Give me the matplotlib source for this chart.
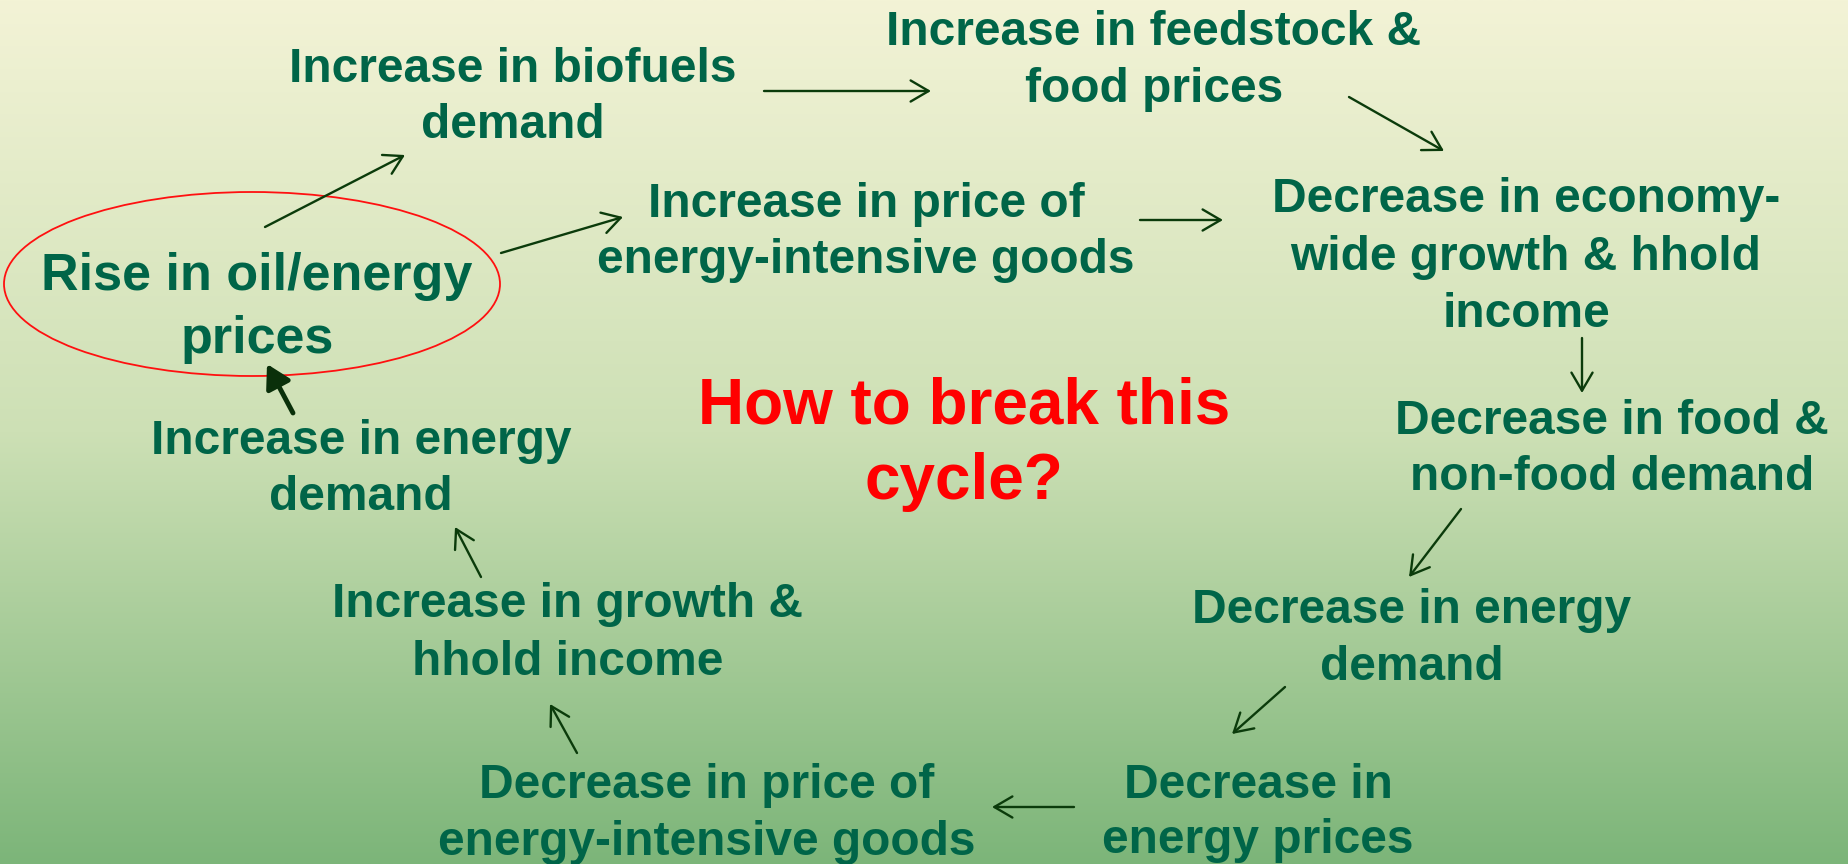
import numpy as np
import matplotlib
matplotlib.use('Agg')
import matplotlib.pyplot as plt
from matplotlib.patches import FancyArrowPatch, Ellipse

plt.rcParams['font.family'] = ['Liberation Sans', 'DejaVu Sans']

# boxes of the cycle
labels = [
    'Increase in biofuels\ndemand',
    'Increase in feedstock &\nfood prices',
    'Rise in oil/energy\nprices',
    'Increase in price of\nenergy-intensive goods',
    'Decrease in economy-\nwide growth & hhold\nincome',
    'Decrease in food &\nnon-food demand',
    'Decrease in energy\ndemand',
    'Decrease in\nenergy prices',
    'Decrease in price of\nenergy-intensive goods',
    'Increase in growth &\nhhold income',
    'Increase in energy\ndemand',
]
question = 'How to break this\ncycle?'

# layout (pixels): centre x, first baseline y, line step
label_x = [513, 1154, 257, 866, 1526, 1612, 1412, 1258, 707, 568, 361]
label_y = [82, 45, 290, 217, 212, 434, 623, 798, 798, 617, 454]
label_step = [56, 57, 63, 56, 57.5, 56, 57, 55, 57, 58, 56]
label_size = [34.5, 34.5, 37.5, 34.5, 34.5, 34.5, 34.5, 34.5, 34.5, 34.5, 34.5]

# arrows: (x0, y0, x1, y1)
arrows = [
    (764, 91, 931, 91),
    (1349, 97, 1444, 151),
    (1140, 220, 1223, 220),
    (1582, 338, 1582, 393),
    (1461, 509, 1409, 577),
    (1285, 687, 1232, 734),
    (1074, 807, 992, 807),
    (577, 753, 550, 704),
    (481, 577, 455, 527),
    (265, 227, 405, 155),
    (501, 253, 623, 217),
]
thick_arrow = (293, 413, 267, 364)

W, H = 1848, 864
fig = plt.figure(figsize=(W / 100, H / 100), dpi=100)
ax = fig.add_axes([0, 0, 1, 1])
ax.set_xlim(0, W)
ax.set_ylim(H, 0)
ax.axis('off')

# background gradient, pale yellow to green
t = np.linspace(0, 1, 400)[:, None]
top = np.array([243, 243, 214]) / 255
mid = np.array([205, 224, 181]) / 255
bot = np.array([124, 181, 121]) / 255
grad = np.where(t < 0.5, top + (mid - top) * (t / 0.5),
                mid + (bot - mid) * ((t - 0.5) / 0.5))
ax.imshow(grad[:, None, :].repeat(2, axis=1), extent=(0, W, H, 0),
          aspect='auto', zorder=0)

green = '#006548'
for lab, x, y, step, fs in zip(labels, label_x, label_y, label_step, label_size):
    for i, line in enumerate(lab.split('\n')):
        ax.text(x, y + i * step, line, ha='center', va='baseline',
                fontsize=fs, fontweight='bold', color=green, zorder=3)

for i, line in enumerate(question.split('\n')):
    ax.text(964, 423 + i * 76, line, ha='center', va='baseline',
            fontsize=46, fontweight='bold', color='#ff0000', zorder=3)

ax.add_patch(Ellipse((252, 284), 496, 184, fill=False, edgecolor='#ff1010',
                     lw=1.3, zorder=2))

arrow_col = '#0b3b0b'
for x0, y0, x1, y1 in arrows:
    ax.add_patch(FancyArrowPatch((x0, y0), (x1, y1),
                                 arrowstyle='->,head_length=0.65,head_width=0.38',
                                 mutation_scale=20, lw=1.7, color=arrow_col,
                                 shrinkA=0, shrinkB=0, zorder=4))

x0, y0, x1, y1 = thick_arrow
ax.add_patch(FancyArrowPatch((x0, y0), (x1, y1),
                             arrowstyle='-|>,head_length=0.7,head_width=0.4',
                             mutation_scale=20, lw=3.5, color='#0a300a',
                             shrinkA=0, shrinkB=0, zorder=4))

fig.savefig('out.png', dpi=100)
